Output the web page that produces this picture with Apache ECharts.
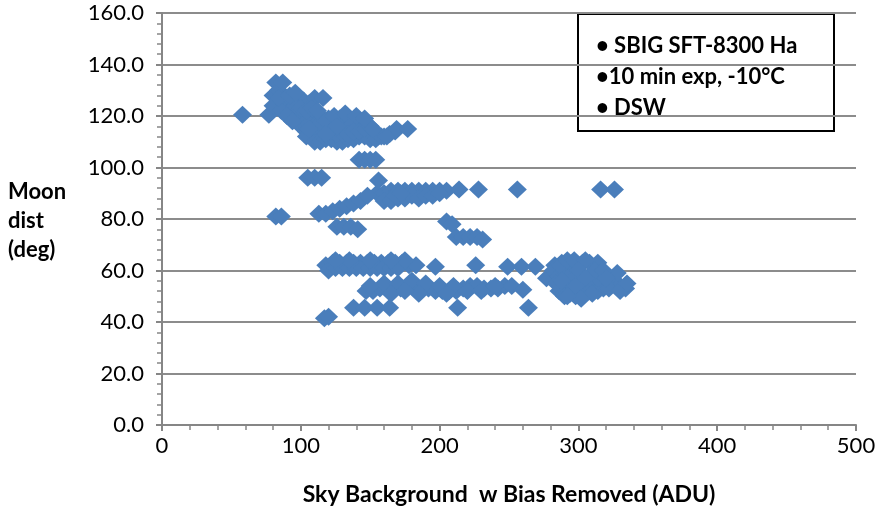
<!DOCTYPE html>
<html>
<head>
<meta charset="utf-8">
<script src="https://cdn.jsdelivr.net/npm/echarts@6/dist/echarts.min.js"></script>
<style>
  html, body { margin: 0; padding: 0; background: #fff; }
  #chart { width: 883px; height: 515px; }
</style>
</head>
<body>
<div id="chart"></div>
<script>
// Sky background (ADU, bias removed) and moon distance (deg) per frame
const skyAdu = [
  // high moon-distance group
  58, 77, 80, 82, 84, 87, 85, 80, 88, 90, 94, 98, 102, 106, 110, 116,
  92, 96, 100, 104, 108, 112, 116, 120, 124, 128, 132, 136, 140, 144,
  100, 104, 108, 112, 116, 120, 124, 128, 132, 136, 140, 144, 148, 152, 156, 160, 164, 168,
  104, 110, 114, 118, 122, 126, 130, 134, 138, 142, 146, 150, 154, 158, 162,
  98, 102, 106, 110, 114, 118, 122, 126, 130, 134, 138, 142, 146, 150,
  96, 100, 104, 108, 112, 86, 90, 94, 118, 124, 132, 140, 146, 152, 126, 106, 84, 92, 96,
  169, 177, 142, 146, 150, 154,
  // 75-96 deg group
  155, 160, 165, 170, 175, 180, 185, 190, 195, 200, 205, 214, 228, 256, 316, 326,
  160, 165, 170, 175, 180, 156, 185, 190, 195, 200, 168, 172,
  113, 118, 123, 128, 133, 138, 143, 148, 82, 86, 105, 110, 115,
  126, 131, 136, 141, 205, 209, 212, 217, 222, 227, 231,
  // ~62 deg group
  118, 123, 128, 133, 138, 143, 148, 153, 158, 163, 168, 173, 178, 183,
  120, 125, 130, 135, 140, 145, 150, 155, 160, 165, 170, 175, 165, 150, 135, 125,
  197, 226, 249, 259, 269, 277, 283, 288, 293, 298, 303, 308, 314,
  // ~52 deg group
  147, 152, 157, 162, 167, 172, 177, 182, 187, 192, 197, 202, 207, 212,
  217, 222, 227, 232, 237, 242, 247, 252, 260,
  150, 160, 170, 180, 190, 200, 210, 220, 230, 240, 165, 185, 205, 175,
  // low group
  138, 146, 155, 164, 213, 264, 117, 120,
  // bright-sky group
  282, 286, 290, 294, 298, 302, 306, 310, 314, 318, 322, 326, 330, 334,
  286, 290, 294, 298, 302, 306, 310, 314, 318, 322, 328, 284, 290, 296, 302, 308, 314,
  287, 292, 297, 305, 312, 318, 300, 295, 305, 288, 320, 330, 335, 298, 310, 302, 292
];

const moonDist = [
  120.5, 120.5, 128, 133, 130, 133, 126, 124, 125, 127, 126, 126, 126, 125, 127, 127,
  122, 121, 120, 119, 120, 119, 119, 119, 119, 119, 119, 118, 118, 118,
  116, 114, 112, 113, 115, 116, 117, 116, 115, 116, 115, 116, 114, 113, 112, 112, 113, 114,
  112, 110, 110, 111, 111, 110, 110, 111, 111, 112, 112, 111, 111, 112, 112,
  118, 117, 117, 116, 117, 118, 114, 113, 113, 113, 114, 114, 115, 116,
  124, 123, 122, 123, 122, 122, 120, 118, 113, 120, 121, 120, 119, 115, 116, 115, 127, 128, 129,
  115, 115, 103, 103, 103, 103,
  90, 90, 91, 91, 91, 91, 91, 91, 91, 91, 91, 91.5, 91.5, 91.5, 91.5, 91.5,
  87, 87, 88, 88, 89, 95, 88, 89, 89, 90, 89, 90,
  82, 82, 83, 84, 85, 86, 87, 89, 81, 81, 96, 96, 96,
  77, 77, 77, 76, 79, 78, 73, 73, 73, 73, 72,
  62, 63, 63, 63, 63, 63, 63, 63, 63, 63, 63, 63, 62, 62,
  60, 61, 61, 61, 61, 61, 61, 61, 61, 61, 61, 64, 64, 64, 64, 64,
  61.5, 62, 61.5, 61.5, 61.5, 57, 62, 63, 63, 63, 63, 63, 63,
  52, 52, 53, 53, 53, 53, 54, 54, 53, 53, 52, 52, 52, 52,
  53, 54, 54, 53, 53, 53, 54, 54, 52.5,
  54, 55, 55, 56, 55, 54, 54, 52, 52, 54, 51, 51, 51, 52,
  45.5, 45.5, 45.5, 45.5, 45.5, 45.5, 41.5, 42,
  60, 58, 55, 53, 52, 54, 55, 55, 54, 53, 55, 56, 54, 53,
  52, 50, 51, 50, 51, 52, 53, 52, 54, 53, 59, 55, 60, 59, 58, 57, 57,
  62, 64, 64, 64, 60, 60, 60, 56, 57, 56, 57, 52, 55, 54, 51, 49, 50
];

const xTicks = [0, 100, 200, 300, 400, 500];
const yTicks = [0, 20, 40, 60, 80, 100, 120, 140, 160];
const noteLines = ['• SBIG SFT-8300 Ha', '•10 min exp, -10°C', '• DSW'];

const points = skyAdu.map((x, i) => [x, moonDist[i]]);

const FONT = 'Lato, "Open Sans", sans-serif';
const chart = echarts.init(document.getElementById('chart'), null, { renderer: 'canvas' });

chart.setOption({
  animation: false,
  backgroundColor: '#ffffff',
  textStyle: { fontFamily: FONT },
  grid: { left: 162, right: 27, top: 13, bottom: 90, containLabel: false },
  xAxis: {
    type: 'value',
    min: xTicks[0],
    max: xTicks[xTicks.length - 1],
    interval: 100,
    name: 'Sky Background  w Bias Removed (ADU)',
    nameLocation: 'middle',
    nameGap: 58,
    nameTextStyle: { fontFamily: FONT, fontWeight: 'bold', fontSize: 23, color: '#000' },
    axisLine: { show: true, lineStyle: { color: '#868686', width: 2 } },
    axisTick: { show: true, length: 6, lineStyle: { color: '#868686', width: 2 } },
    minorTick: { show: true, splitNumber: 5, length: 5, lineStyle: { color: '#868686', width: 1.5 } },
    axisLabel: { fontFamily: FONT, fontSize: 22, color: '#000', margin: 10 },
    splitLine: { show: false }
  },
  yAxis: {
    type: 'value',
    min: yTicks[0],
    max: yTicks[yTicks.length - 1],
    interval: 20,
    axisLine: { show: true, lineStyle: { color: '#868686', width: 2 } },
    axisTick: { show: true, length: 6, lineStyle: { color: '#868686', width: 2 } },
    minorTick: { show: true, splitNumber: 5, length: 5, lineStyle: { color: '#868686', width: 1.5 } },
    axisLabel: {
      fontFamily: FONT, fontSize: 22, color: '#000', margin: 18,
      formatter: v => v.toFixed(1)
    },
    splitLine: { show: true, lineStyle: { color: '#8c8c8c', width: 2 } }
  },
  series: [{
    type: 'scatter',
    data: points,
    symbol: 'diamond',
    symbolSize: [19, 18],
    itemStyle: { color: '#4a7ebb', opacity: 1 },
    z: 3
  }],
  graphic: [
    {
      type: 'text',
      left: 8,
      top: 177,
      style: {
        text: 'Moon\ndist\n(deg)',
        fontFamily: FONT,
        fontWeight: 'bold',
        fontSize: 22,
        lineHeight: 29,
        fill: '#000',
        align: 'center',
        width: 66
      }
    },
    {
      type: 'group',
      left: 577,
      top: 13,
      z: 10,
      children: [
        {
          type: 'rect',
          shape: { x: 0, y: 0, width: 256, height: 117 },
          style: { fill: '#ffffff', stroke: '#000000', lineWidth: 2 }
        },
        {
          type: 'text',
          x: 18,
          y: 16,
          style: {
            text: noteLines.join('\n'),
            fontFamily: FONT,
            fontWeight: 'bold',
            fontSize: 22,
            lineHeight: 31,
            fill: '#000'
          }
        }
      ]
    }
  ]
});
</script>
</body>
</html>
